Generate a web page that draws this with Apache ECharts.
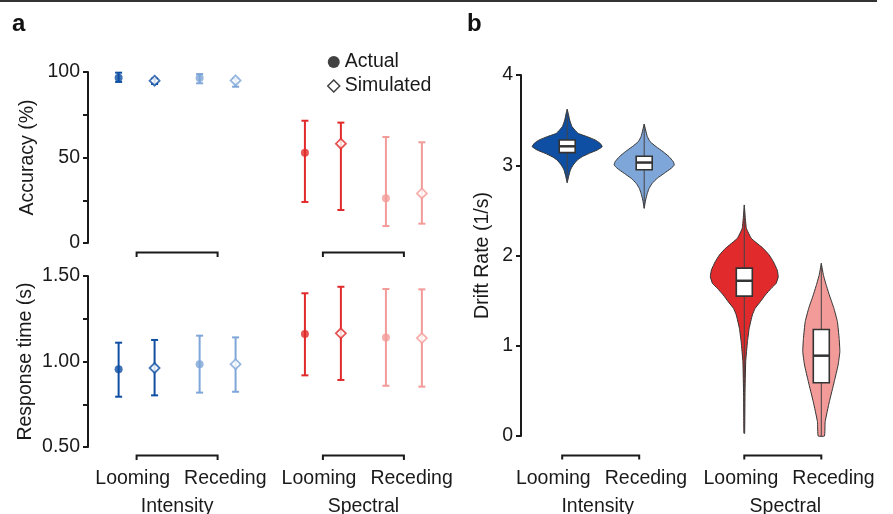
<!DOCTYPE html>
<html><head><meta charset="utf-8">
<script src="https://cdn.jsdelivr.net/npm/echarts@6/dist/echarts.min.js"></script>
<style>html,body{margin:0;padding:0;background:#fff}#c{width:893px;height:514px}</style>
</head><body><div id="c"></div>
<script>
// ---------------- DATA ----------------
const conditions = ['Looming', 'Receding', 'Looming', 'Receding'];
const groups = ['Intensity', 'Spectral'];
const accTicks = [0, 50, 100];
const rtTicks = ['0.50', '1.00', '1.50'];
const driftTicks = [0, 1, 2, 3, 4];

// Panel a, accuracy (%)
const accActual   = [96.7, 96.5, 52.8, 26.1];
const accActualLo = [94.2, 93.4, 24.0, 9.9];
const accActualHi = [99.6, 98.8, 71.5, 62.0];
const accSim      = [94.9, 95.1, 58.1, 29.0];
const accSimLo    = [93.0, 91.4, 19.3, 11.3];
const accSimHi    = [96.1, 96.1, 70.4, 58.9];

// Panel a, response time (s)
const rtActual   = [0.954, 0.984, 1.161, 1.141];
const rtActualLo = [0.794, 0.818, 0.919, 0.858];
const rtActualHi = [1.110, 1.151, 1.399, 1.424];
const rtSim      = [0.962, 0.984, 1.165, 1.137];
const rtSimLo    = [0.802, 0.823, 0.892, 0.853];
const rtSimHi    = [1.126, 1.141, 1.437, 1.422];

// Panel b, drift-rate violins: levels (1/s) and relative density at each level
const violinLevels = [
  [3.620, 3.575, 3.501, 3.427, 3.354, 3.317, 3.280, 3.243, 3.206, 3.169, 3.132, 3.095, 3.058, 3.003, 2.947, 2.873, 2.807],
  [3.457, 3.391, 3.317, 3.261, 3.206, 3.150, 3.095, 3.040, 3.003, 2.966, 2.910, 2.855, 2.800, 2.744, 2.689, 2.615, 2.523],
  [2.560, 2.412, 2.301, 2.190, 2.079, 2.006, 1.932, 1.839, 1.765, 1.692, 1.636, 1.562, 1.488, 1.415, 1.341, 1.193, 1.045, 0.823, 0.454, 0.030],
  [1.913, 1.784, 1.673, 1.562, 1.415, 1.267, 1.082, 0.934, 0.787, 0.602, 0.380, 0.158, 0.000]
];
const violinDensity = [
  [0, .03, .07, .14, .31, .57, .80, .94, 1.0, .86, .63, .43, .29, .17, .09, .04, 0],
  [0, .04, .09, .17, .34, .54, .71, .83, .86, .77, .57, .37, .23, .14, .09, .04, 0],
  [0, .03, .06, .20, .54, .71, .83, .94, .97, .91, .77, .60, .46, .31, .23, .14, .09, .04, .02, .01],
  [0, .06, .14, .23, .36, .46, .51, .53, .48, .37, .23, .11, .09]
];
const violinQ1     = [3.14, 2.95, 1.55, 0.59];
const violinMedian = [3.21, 3.03, 1.72, 0.89];
const violinQ3     = [3.28, 3.10, 1.86, 1.18];

// ---------------- LAYOUT / STYLE ----------------
const POS = [1, 2, 3.3, 4.3];      // placement of the four conditions on the x scale
const OFF = 0.222;                 // actual / simulated horizontal offset
const COLORS = ['#0f4fa3', '#7ea6d8', '#e12a2b', '#f29b99'];
const FONT = '"Liberation Sans", Arial, Helvetica, sans-serif';
const FS = 19.5;
const TXT = '#1a1a1a';
const AX = '#1a1a1a';
const AXMIN = [0, 0.5, 0];
const CAP = 3.5, VW = 35, BOXW = 8, LABEL_GAP = 7;
const GROUP_SHIFT = [[0, 0], [0, 0], [-8, 2.5]];   // px nudges of labels per grid & group
const BRACKET_SHIFT = [[0, 0], [0, 0], [-5, 0]];

function yAx(gi, o) {
  return Object.assign({
    type: 'value', gridIndex: gi, nameLocation: 'middle',
    nameTextStyle: { fontFamily: FONT, fontSize: FS, color: TXT },
    axisLine: { show: true, onZero: false, lineStyle: { color: AX, width: 2 } },
    axisTick: { show: true, length: 5, lineStyle: { color: AX, width: 2 } },
    axisLabel: { fontFamily: FONT, fontSize: FS, color: TXT, margin: 8 },
    splitLine: { show: false }
  }, o);
}
function xAx(gi) { return { type: 'value', gridIndex: gi, min: 0.4, max: 4.8, show: false }; }

function errSeries(gi, lo, hi, off) {
  return {
    type: 'custom', xAxisIndex: gi, yAxisIndex: gi, silent: true, z: 1, clip: false,
    data: POS.map((p, i) => [p + off, lo[i], hi[i]]),
    encode: { x: 0, y: [1, 2] },
    renderItem: (params, api) => {
      const i = params.dataIndex;
      const a = api.coord([api.value(0), api.value(1)]);
      const b = api.coord([api.value(0), api.value(2)]);
      const st = { stroke: COLORS[i], lineWidth: 2 };
      return { type: 'group', children: [
        { type: 'line', shape: { x1: a[0], y1: a[1], x2: b[0], y2: b[1] }, style: st },
        { type: 'line', shape: { x1: a[0] - CAP, y1: a[1], x2: a[0] + CAP, y2: a[1] }, style: st },
        { type: 'line', shape: { x1: b[0] - CAP, y1: b[1], x2: b[0] + CAP, y2: b[1] }, style: st }
      ] };
    }
  };
}
function ptSeries(gi, name, vals, off) {
  const sim = name === 'Simulated';
  return {
    type: 'scatter', name: name, xAxisIndex: gi, yAxisIndex: gi, z: 3, silent: true,
    symbol: sim ? 'diamond' : 'circle', symbolSize: sim ? 10 : 8,
    data: POS.map((p, i) => ({
      value: [p + off, vals[i]],
      itemStyle: sim ? { color: '#fff', borderColor: COLORS[i], borderWidth: 1.8 } : { color: COLORS[i] }
    }))
  };
}
function bracketSeries(gi, drop, len) {
  return {
    type: 'custom', xAxisIndex: gi, yAxisIndex: gi, silent: true, clip: false,
    data: groups.map((g, k) => [POS[2 * k], POS[2 * k + 1]]),
    encode: { x: [0, 1] },
    renderItem: (params, api) => {
      const s = BRACKET_SHIFT[gi][params.dataIndex];
      const a = api.coord([api.value(0), AXMIN[gi]]);
      const b = api.coord([api.value(1), AXMIN[gi]]);
      const y = a[1] + drop;
      return { type: 'polyline', shape: { points: [[a[0] + s, y + len], [a[0] + s, y], [b[0] + s, y], [b[0] + s, y + len]] },
        style: { stroke: AX, lineWidth: 2, fill: null } };
    }
  };
}
function labelSeries(gi, dy1, dy2) {
  return {
    type: 'custom', xAxisIndex: gi, yAxisIndex: gi, silent: true, clip: false,
    data: groups.map((g, k) => [POS[2 * k], POS[2 * k + 1]]),
    encode: { x: [0, 1] },
    renderItem: (params, api) => {
      const k = params.dataIndex;
      const a = api.coord([api.value(0), AXMIN[gi]]);
      const b = api.coord([api.value(1), AXMIN[gi]]);
      const mid = (a[0] + b[0]) / 2 + GROUP_SHIFT[gi][k];
      const base = { fontFamily: FONT, fontSize: FS, fill: TXT, verticalAlign: 'middle' };
      return { type: 'group', children: [
        { type: 'text', style: Object.assign({ text: conditions[2 * k], x: mid - LABEL_GAP, y: a[1] + dy1, align: 'right' }, base) },
        { type: 'text', style: Object.assign({ text: conditions[2 * k + 1], x: mid + LABEL_GAP, y: a[1] + dy1, align: 'left' }, base) },
        { type: 'text', style: Object.assign({ text: groups[k], x: mid, y: a[1] + dy2, align: 'center' }, base) }
      ] };
    }
  };
}
const violinSeries = {
  type: 'custom', xAxisIndex: 2, yAxisIndex: 2, silent: true, clip: false,
  data: POS.map((p, i) => [p, violinMedian[i]]),
  renderItem: (params, api) => {
    const i = params.dataIndex;
    const x = api.value(0);
    const lv = violinLevels[i], dn = violinDensity[i];
    const left = [], right = [];
    for (let j = 0; j < lv.length; j++) {
      const c = api.coord([x, lv[j]]);
      left.push([c[0] - dn[j] * VW, c[1]]);
      right.push([c[0] + dn[j] * VW, c[1]]);
    }
    const pts = left.concat(right.reverse());
    const top = api.coord([x, Math.max.apply(null, lv)]);
    const bot = api.coord([x, Math.min.apply(null, lv)]);
    const q1 = api.coord([x, violinQ1[i]]), q3 = api.coord([x, violinQ3[i]]), md = api.coord([x, violinMedian[i]]);
    return { type: 'group', children: [
      { type: 'polygon', shape: { points: pts, smooth: 0.12 }, style: { fill: COLORS[i], stroke: '#333', lineWidth: 1 } },
      { type: 'line', shape: { x1: top[0], y1: top[1], x2: bot[0], y2: bot[1] }, style: { stroke: '#444', lineWidth: 1 } },
      { type: 'rect', shape: { x: q3[0] - BOXW, y: q3[1], width: 2 * BOXW, height: q1[1] - q3[1] }, style: { fill: '#fff', stroke: '#333', lineWidth: 1.6 } },
      { type: 'line', shape: { x1: md[0] - BOXW, y1: md[1], x2: md[0] + BOXW, y2: md[1] }, style: { stroke: '#333', lineWidth: 2.5 } }
    ] };
  }
};

const chart = echarts.init(document.getElementById('c'));
chart.setOption({
  animation: false,
  backgroundColor: '#fff',
  grid: [
    { left: 88, top: 72, width: 356.4, height: 171 },
    { left: 88, top: 276, width: 356.4, height: 171 },
    { left: 521, top: 75, width: 338.8, height: 361 }
  ],
  xAxis: [xAx(0), xAx(1), xAx(2)],
  yAxis: [
    yAx(0, { min: 0, max: 100, interval: 25, name: 'Accuracy (%)', nameGap: 50,
      axisLabel: { fontFamily: FONT, fontSize: FS, color: TXT, margin: 8,
        formatter: v => (accTicks.indexOf(v) >= 0 ? String(v) : '') } }),
    yAx(1, { min: 0.5, max: 1.5, interval: 0.25, name: 'Response time (s)', nameGap: 52,
      axisLabel: { fontFamily: FONT, fontSize: FS, color: TXT, margin: 8,
        formatter: v => (rtTicks.indexOf(v.toFixed(2)) >= 0 ? v.toFixed(2) : '') } }),
    yAx(2, { min: 0, max: 4, interval: 1, name: 'Drift Rate (1/s)', nameGap: 28,
      axisLabel: { fontFamily: FONT, fontSize: FS, color: TXT, margin: 8,
        formatter: v => (driftTicks.indexOf(v) >= 0 ? String(v) : '') } })
  ],
  legend: {
    orient: 'vertical', left: 322, top: 47, itemWidth: 12, itemHeight: 12, itemGap: 4,
    selectedMode: false,
    textStyle: { fontFamily: FONT, fontSize: FS, color: TXT, lineHeight: 20 },
    data: [
      { name: 'Actual', icon: 'circle', itemStyle: { color: '#111', borderWidth: 0 } },
      { name: 'Simulated', icon: 'diamond', itemStyle: { color: '#fff', borderColor: '#111', borderWidth: 1.5 } }
    ]
  },
  graphic: [
    { type: 'line', shape: { x1: 0, y1: 1, x2: 877, y2: 1 }, style: { stroke: '#333', lineWidth: 2 } },
    { type: 'text', style: { text: 'a', x: 12, y: 24, verticalAlign: 'middle', font: 'bold 24px ' + FONT, fill: '#111' } },
    { type: 'text', style: { text: 'b', x: 467, y: 24, verticalAlign: 'middle', font: 'bold 24px ' + FONT, fill: '#111' } }
  ],
  series: [
    errSeries(0, accActualLo, accActualHi, -OFF),
    errSeries(0, accSimLo, accSimHi, OFF),
    ptSeries(0, 'Actual', accActual, -OFF),
    ptSeries(0, 'Simulated', accSim, OFF),
    bracketSeries(0, 9.5, 4.5),
    errSeries(1, rtActualLo, rtActualHi, -OFF),
    errSeries(1, rtSimLo, rtSimHi, OFF),
    ptSeries(1, 'Actual', rtActual, -OFF),
    ptSeries(1, 'Simulated', rtSim, OFF),
    bracketSeries(1, 8.5, 4.5),
    labelSeries(1, 32, 60),
    violinSeries,
    bracketSeries(2, 19.5, 4),
    labelSeries(2, 43, 71)
  ]
});
</script></body></html>
